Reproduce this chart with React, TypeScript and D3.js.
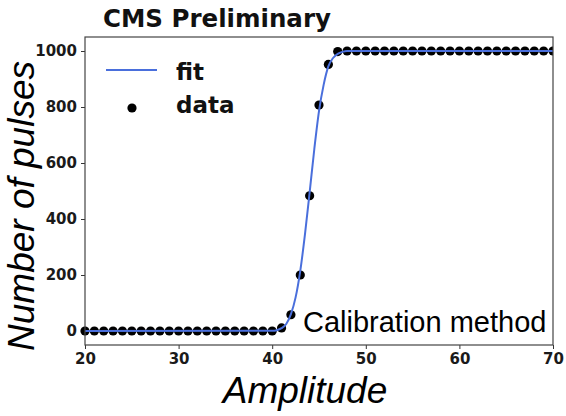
import { useEffect, useRef } from "react";
import * as d3 from "d3";

// measured points (amplitude -> pulses counted)
const amplitudes = d3.range(20, 71);
const pulses = [
  0, 0, 0, 0, 0, 0, 0, 0, 0, 0,
  0, 0, 0, 0, 0, 0, 0, 0, 0, 0,
  0, 11, 58, 200, 483, 807, 952, 998, 1000, 1000,
  1000, 1000, 1000, 1000, 1000, 1000, 1000, 1000, 1000, 1000,
  1000, 1000, 1000, 1000, 1000, 1000, 1000, 1000, 1000, 1000,
  1000,
];

// fitted curve
const fitX = [20, 40, 40.5, 41, 41.5, 42, 42.5, 43, 43.5, 44, 44.5, 45, 45.5, 46, 46.5, 47, 47.5, 48, 70];
const fitY = [0, 1, 3, 10, 25, 60, 120, 215, 345, 495, 650, 785, 880, 945, 975, 990, 997, 1000, 1000];

const xTicks = [20, 30, 40, 50, 60, 70];
const yTicks = [0, 200, 400, 600, 800, 1000];

export default function App() {
  const ref = useRef<HTMLDivElement>(null);

  useEffect(() => {
    document.body.style.margin = "0";
    const container = d3.select(ref.current);
    container.select("svg").remove();

    const W = 566;
    const H = 416;
    const M = { LEFT: 85, RIGHT: 13, TOP: 37, BOTTOM: 71 };

    const svg = container
      .append("svg")
      .attr("width", W)
      .attr("height", H)
      .style("display", "block")
      .style("background", "#fff");

    const xScale = d3.scaleLinear().domain([20, 70]).range([M.LEFT, W - M.RIGHT]);
    const yScale = d3.scaleLinear().domain([-50, 1050]).range([H - M.BOTTOM, M.TOP]);

    svg
      .append("defs")
      .append("clipPath")
      .attr("id", "plotclip")
      .append("rect")
      .attr("x", 0)
      .attr("y", 0)
      .attr("width", W - M.RIGHT)
      .attr("height", H);

    const tickFont = "'DejaVu Sans', sans-serif";

    // axes
    const xAxis = svg
      .append("g")
      .attr("transform", `translate(0, ${H - M.BOTTOM})`)
      .call(d3.axisBottom(xScale).tickValues(xTicks).tickFormat(d3.format("d")).tickSize(4).tickPadding(4));
    const yAxis = svg
      .append("g")
      .attr("transform", `translate(${M.LEFT}, 0)`)
      .call(d3.axisLeft(yScale).tickValues(yTicks).tickFormat(d3.format("d")).tickSize(4).tickPadding(4));

    [xAxis, yAxis].forEach((g) => {
      g.select(".domain").remove();
      g.selectAll("line").attr("stroke", "#333").attr("stroke-width", 1);
      g.selectAll("text")
        .attr("font-family", tickFont)
        .attr("font-weight", "bold")
        .attr("font-size", 15)
        .attr("fill", "#1a1a1a");
    });

    // data points
    svg
      .append("g")
      .attr("clip-path", "url(#plotclip)")
      .selectAll("circle")
      .data(amplitudes)
      .join("circle")
      .attr("cx", (d) => xScale(d))
      .attr("cy", (_, i) => yScale(pulses[i]))
      .attr("r", 4.6)
      .attr("fill", "#000");

    // fit line
    const line = d3
      .line<number>()
      .x((d) => xScale(d))
      .y((_, i) => yScale(fitY[i]))
      .curve(d3.curveMonotoneX);

    svg
      .append("path")
      .datum(fitX)
      .attr("fill", "none")
      .attr("stroke", "#4a6fdc")
      .attr("stroke-width", 2)
      .attr("d", line);

    // frame
    svg
      .append("rect")
      .attr("x", M.LEFT)
      .attr("y", M.TOP)
      .attr("width", W - M.LEFT - M.RIGHT)
      .attr("height", H - M.TOP - M.BOTTOM)
      .attr("fill", "none")
      .attr("stroke", "#444")
      .attr("stroke-width", 1.2);

    // legend
    svg
      .append("line")
      .attr("x1", 106)
      .attr("x2", 157)
      .attr("y1", 70)
      .attr("y2", 70)
      .attr("stroke", "#4a6fdc")
      .attr("stroke-width", 2);
    svg.append("circle").attr("cx", 132).attr("cy", 108).attr("r", 4.6).attr("fill", "#000");
    svg
      .append("text")
      .attr("x", 176)
      .attr("y", 80)
      .attr("font-family", tickFont)
      .attr("font-weight", "bold")
      .attr("font-size", 23)
      .attr("fill", "#111")
      .text("fit");
    svg
      .append("text")
      .attr("x", 176)
      .attr("y", 113)
      .attr("font-family", tickFont)
      .attr("font-weight", "bold")
      .attr("font-size", 23)
      .attr("fill", "#111")
      .text("data");

    // title
    svg
      .append("text")
      .attr("x", 103)
      .attr("y", 27)
      .attr("font-family", tickFont)
      .attr("font-weight", "bold")
      .attr("font-size", 24.5)
      .attr("fill", "#111")
      .text("CMS Preliminary");

    // annotation
    svg
      .append("text")
      .attr("x", 303)
      .attr("y", 332)
      .attr("font-family", "'Liberation Sans', Arial, sans-serif")
      .attr("font-size", 29)
      .attr("fill", "#000")
      .text("Calibration method");

    // axis titles
    svg
      .append("text")
      .attr("x", 305)
      .attr("y", 403)
      .attr("text-anchor", "middle")
      .attr("font-family", "'Liberation Sans', Arial, sans-serif")
      .attr("font-style", "italic")
      .attr("font-size", 37)
      .attr("fill", "#000")
      .text("Amplitude");
    svg
      .append("text")
      .attr("transform", "translate(34, 206) rotate(-90)")
      .attr("text-anchor", "middle")
      .attr("font-family", "'Liberation Sans', Arial, sans-serif")
      .attr("font-style", "italic")
      .attr("font-size", 37)
      .attr("fill", "#000")
      .text("Number of pulses");
  }, []);

  return <div ref={ref}></div>;
}
